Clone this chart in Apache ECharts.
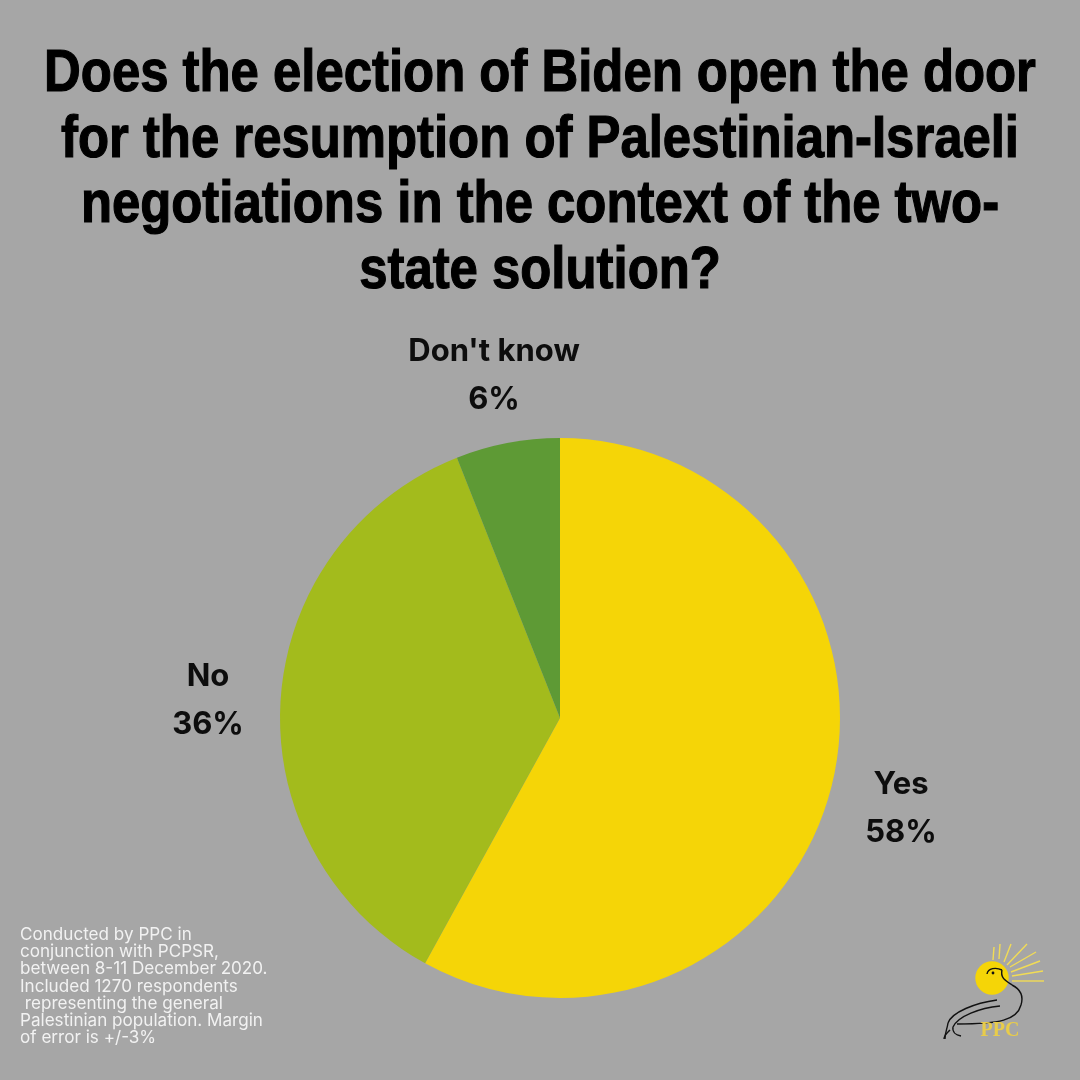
<!DOCTYPE html>
<html><head><meta charset="utf-8">
<style>html,body{margin:0;padding:0;background:#a6a6a6}#c{width:1080px;height:1080px}</style>
<script src="https://cdn.jsdelivr.net/npm/echarts@6/dist/echarts.min.js"></script>
</head><body><div id="c"></div>
<script>
const categories=["Yes","No","Don't know"];
const values=[58,36,6];
const colors=["#f5d507","#a3bb1c","#5e9a35"];
const titleLines=["Does the election of Biden open the door","for the resumption of Palestinian-Israeli","negotiations in the context of the two-","state solution?"];
const noteLines=["Conducted by PPC in","conjunction with PCPSR,","between 8-11 December 2020.","Included 1270 respondents"," representing the general","Palestinian population. Margin","of error is +/-3%"];
const labelCentres=[[901,809],[208,701],[494,376]];
const chart=echarts.init(document.getElementById('c'),null,{renderer:'canvas'});
const rays=[[993,960,994,947],[999,959,1000,944],[1004,962,1011,944],[1007,965,1027,944],[1010,967,1036,952],[1011,972,1040,961],[1012,976,1043,971],[1012,981,1044,981]];
const inkCurves=[
 [987,974,988,968,996,967,1002,970],
 [1002,970,1000,978,1006,981,1012,985],
 [1012,985,1020,989,1024,995,1021,1005],
 [1021,1005,1017,1020,1000,1024,957,1024],
 [997,1000,975,1003,952,1012,948,1023],
 [948,1023,947,1030,945,1032,945,1039],
 [1000,1006,980,1008,958,1016,953,1027],
 [953,1027,952,1032,956,1035,961,1036],
 [950,1030,947,1033,944,1035,944,1039]
];
const logo=[
 {type:'circle',shape:{cx:992,cy:978,r:16.7},style:{fill:'#f5d507'}},
 ...rays.map(r=>({type:'line',shape:{x1:r[0],y1:r[1],x2:r[2],y2:r[3]},style:{stroke:'#f2dc55',lineWidth:1.4}})),
 ...inkCurves.map(c=>({type:'bezierCurve',shape:{x1:c[0],y1:c[1],cpx1:c[2],cpy1:c[3],cpx2:c[4],cpy2:c[5],x2:c[6],y2:c[7]},style:{fill:null,stroke:'#111',lineWidth:1.4}})),
 {type:'circle',shape:{cx:993,cy:973,r:1.4},style:{fill:'#111'}},
 {type:'text',style:{text:'PPC',x:1000,y:1031,fill:'#e8cc4a',align:'center',verticalAlign:'middle',font:'bold 20px "Liberation Serif"'}}
];
chart.setOption({
 backgroundColor:'#a6a6a6',animation:false,
 graphic:[
  ...titleLines.map((t,i)=>({type:'text',x:540,y:75+i*65.5,scaleX:0.862,style:{text:t,x:0,y:0,fill:'#000',stroke:'#000',lineWidth:1.2,align:'center',verticalAlign:'middle',font:'bold 59px "Liberation Sans"'}})),
  ...noteLines.map((t,i)=>({type:'text',style:{text:t,x:20,y:934.5+i*17.3,fill:'#f2f2f2',align:'left',verticalAlign:'middle',font:'17.1px "Inter"'}})),
  ...logo
 ],
 series:[{type:'pie',center:[560,718],radius:[0,280],startAngle:90,clockwise:true,
  data:categories.map((n,i)=>({name:n,value:values[i],itemStyle:{color:colors[i]}})),
  label:{show:true,position:'outside',formatter:p=>p.name+'\n'+p.value+'%',color:'#0d0d0d',fontFamily:'Inter',fontWeight:700,fontSize:31,lineHeight:48,align:'center',verticalAlign:'middle'},
  labelLine:{show:false},
  labelLayout:p=>({x:labelCentres[p.dataIndex][0],y:labelCentres[p.dataIndex][1],align:'center',verticalAlign:'middle'})
 }]
});
</script></body></html>
